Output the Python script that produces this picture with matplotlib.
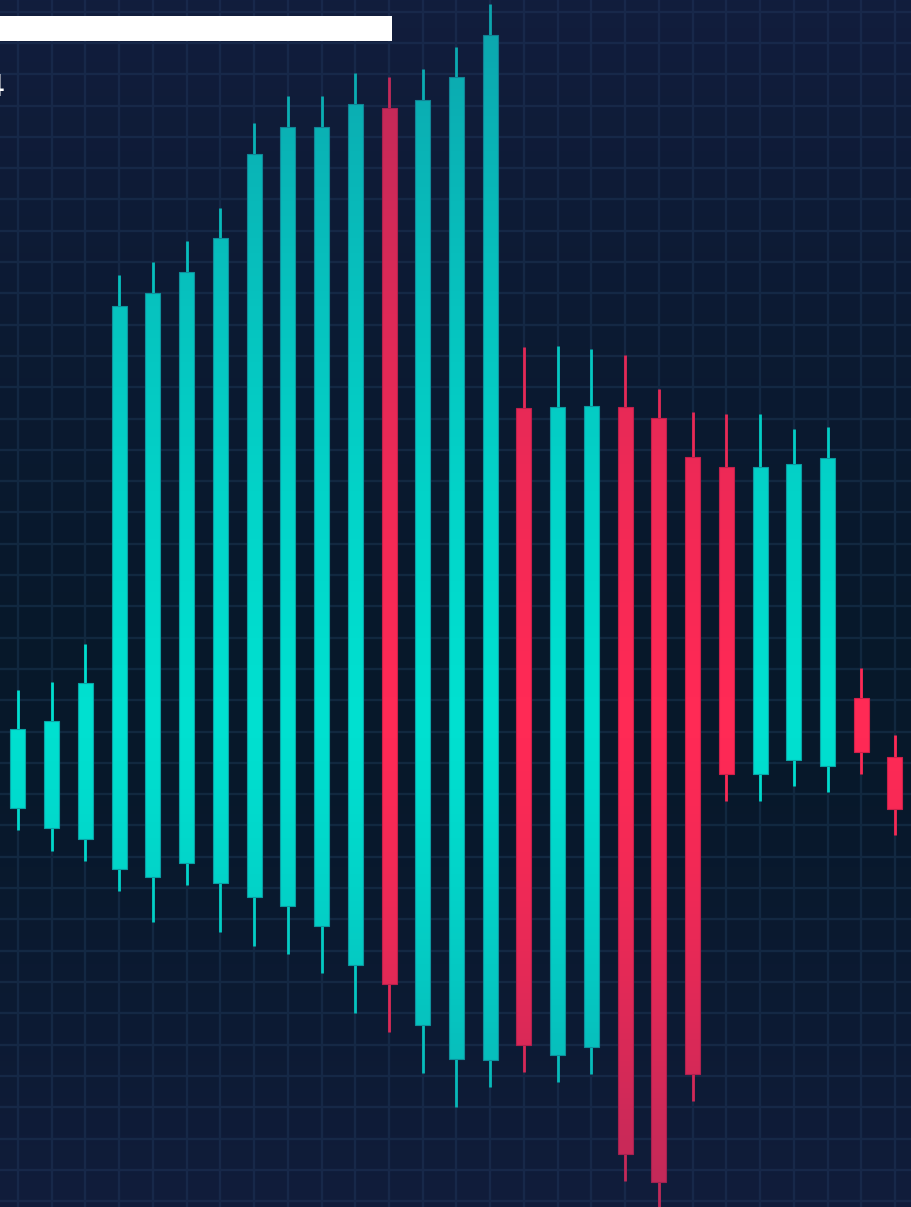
import numpy as np
import matplotlib
matplotlib.use('Agg')
import matplotlib.pyplot as plt
from matplotlib.patches import Rectangle

# candle data (price units, grid every 10)
opens  = [125.6, 119.2, 115.7, 106.1, 103.5, 108.0, 101.6, 97.2, 94.3, 87.9, 75.4, 349.2, 56.3,
          45.4, 45.1, 253.4, 46.7, 49.2, 253.7, 250.2, 237.7, 234.5, 136.5, 140.9, 139.0, 160.7, 141.9]
closes = [150.8, 153.4, 165.5, 286.1, 290.1, 296.8, 307.7, 334.5, 343.2, 343.2, 350.5, 69.4, 351.8,
          359.1, 372.6, 49.9, 253.7, 254.0, 15.0, 6.1, 40.6, 136.5, 234.5, 235.5, 237.4, 143.5, 125.3]
highs  = [163.3, 165.8, 178.0, 295.9, 300.0, 306.7, 317.3, 344.4, 353.1, 353.1, 360.4, 359.1, 361.7,
          368.7, 382.5, 272.9, 273.2, 272.2, 270.3, 259.5, 252.1, 251.5, 251.5, 246.7, 247.3, 170.3, 148.9]
lows   = [118.6, 111.9, 108.7, 99.1, 89.2, 101.0, 86.0, 81.5, 78.9, 72.9, 60.1, 54.0, 40.9,
          30.1, 36.5, 41.2, 38.1, 40.6, 6.4, -5.0, 32.0, 127.8, 127.8, 132.6, 130.7, 136.5, 117.0]

UP = '#00e0d0'
DOWN = '#ff2a55'
UP_EDGE = '#0aa6a8'
DOWN_EDGE = '#d0204a'

W, H = 912, 1207
fig = plt.figure(figsize=(W / 100, H / 100), dpi=100)
ax = fig.add_axes([0, 0, 1, 1])

x0, x1 = -18 / 33.73, (W - 18) / 33.73
y0, y1 = (1201.1 - H) / 3.13, 1201.1 / 3.13
ax.set_xlim(x0, x1)
ax.set_ylim(y0, y1)

# dark base
base = np.zeros((2, 2, 3))
base[:] = np.array([7, 24, 42]) / 255
ax.imshow(base, extent=(x0, x1, y0, y1), aspect='auto', zorder=0)

# grid
for v in range(27):
    ax.axvline(v, color='#11283f', lw=1.7, zorder=1)
for p in range(0, 390, 10):
    ax.axhline(p, color='#11283f', lw=1.7, zorder=1)

# candles
bw = 15 / 33.73
for i in range(len(opens)):
    up = closes[i] >= opens[i]
    c = UP if up else DOWN
    ec = UP_EDGE if up else DOWN_EDGE
    ax.vlines(i, lows[i], highs[i], color=c, lw=2.0, zorder=2)
    lo = min(opens[i], closes[i])
    ax.add_patch(Rectangle((i - bw / 2, lo), bw, abs(closes[i] - opens[i]),
                           facecolor=c, edgecolor=ec, lw=0.8, zorder=3))

# navy vignette over everything
rows = np.arange(H)
alpha = np.where(rows < 720,
                 0.33 * ((720 - rows) / 720.0) ** 1.3,
                 0.30 * ((rows - 720) / 487.0) ** 1.3)
ov = np.zeros((H, 2, 4))
ov[..., 0] = 40 / 255
ov[..., 1] = 40 / 255
ov[..., 2] = 100 / 255
ov[..., 3] = alpha[:, None]
ax.imshow(ov, extent=(x0, x1, y0, y1), aspect='auto', origin='upper', zorder=10)

ax.set_axis_off()

# redacted title bar and clipped label
fig.patches.append(Rectangle((0, 1 - 41 / H), 392 / W, 25 / H, transform=fig.transFigure,
                             facecolor='white', edgecolor='none', zorder=20))
fig.text(5 / W, 1 - 88 / H, '4', ha='right', va='center', fontsize=22, color='white', zorder=21)

fig.savefig('out.png', dpi=100)
